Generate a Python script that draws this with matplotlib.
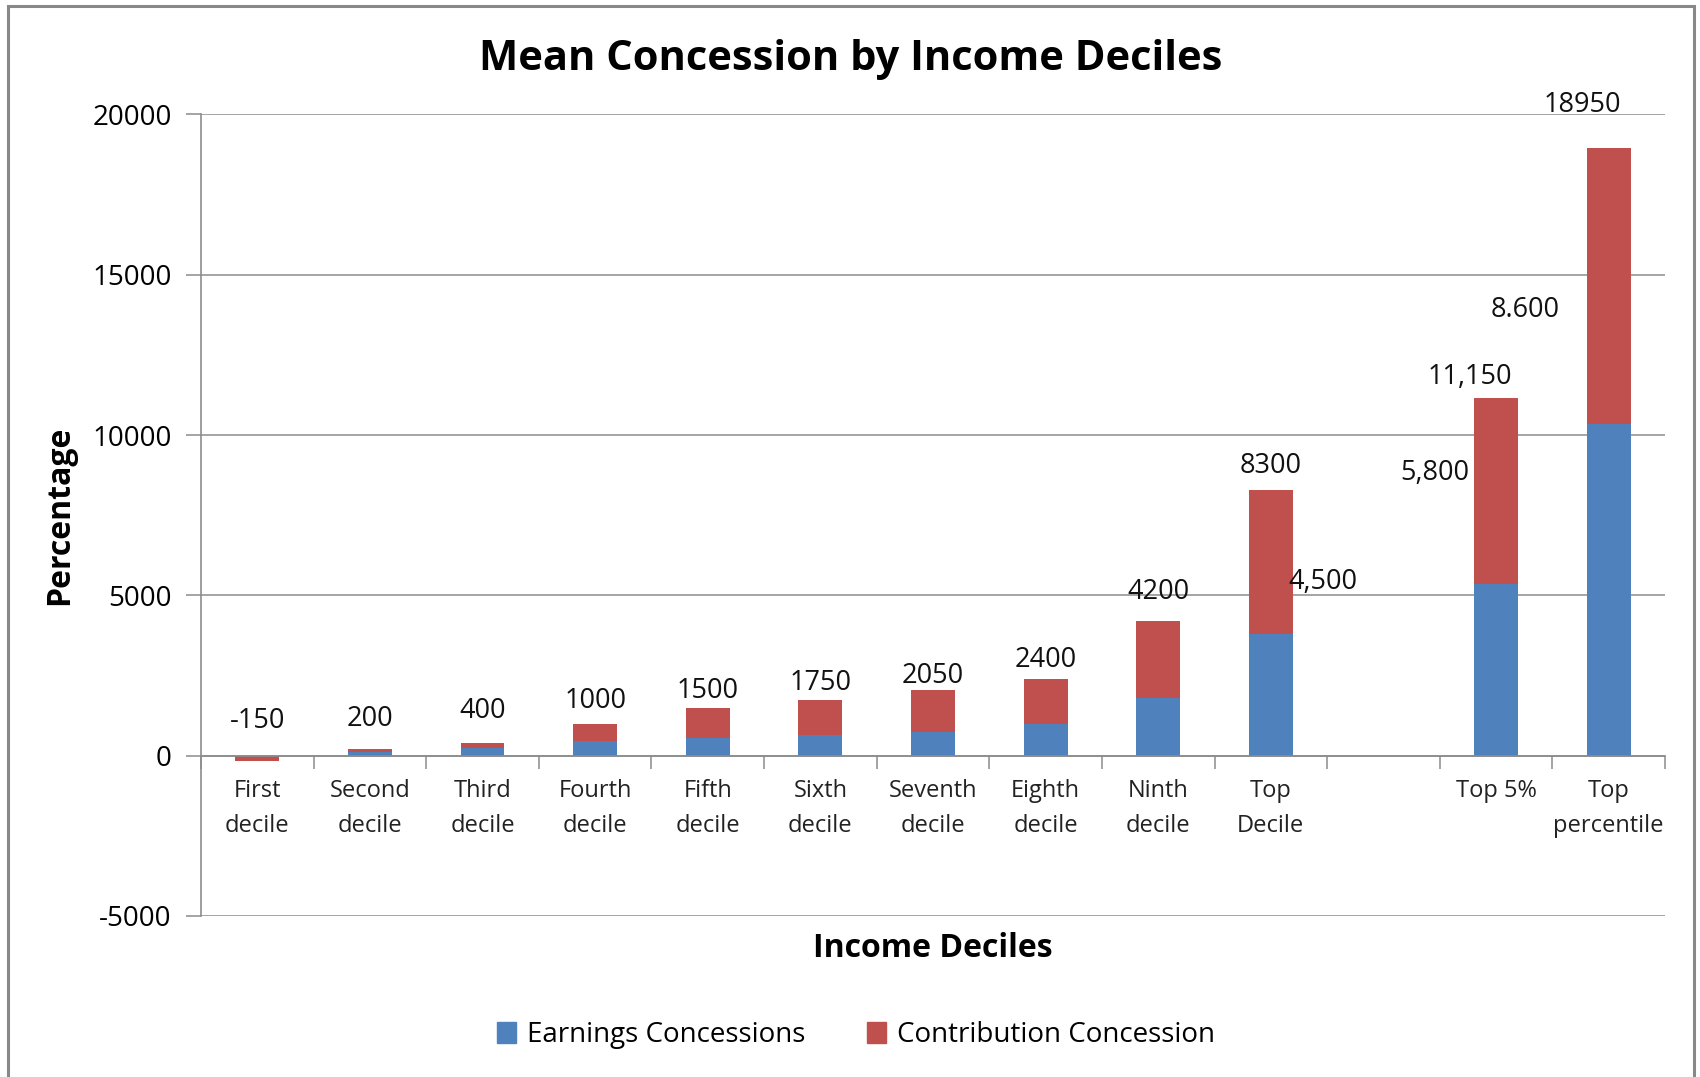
import matplotlib
matplotlib.use("Agg")
import matplotlib.pyplot as plt
from matplotlib.patches import Rectangle, Patch
import numpy as np

plt.rcParams['font.family'] = ['Open Sans', 'DejaVu Sans']
plt.rcParams['axes.unicode_minus'] = False

# categories (an empty slot sits between "Top Decile" and "Top 5%")
categories = ["First\ndecile", "Second\ndecile", "Third\ndecile", "Fourth\ndecile",
              "Fifth\ndecile", "Sixth\ndecile", "Seventh\ndecile", "Eighth\ndecile",
              "Ninth\ndecile", "Top\nDecile", "", "Top 5%", "Top\npercentile"]
earnings = [0, 100, 250, 450, 550, 650, 750, 1000, 1800, 3800, 0, 5350, 10350]
contribution = [-150, 100, 150, 550, 950, 1100, 1300, 1400, 2400, 4500, 0, 5800, 8600]

# hand-placed data labels of the original chart: (text, x slot, y value)
label_texts = ["-150", "200", "400", "1000", "1500", "1750", "2050", "2400",
               "4200", "8300", "11,150", "18950", "4,500", "5,800", "8.600"]
label_x = [0, 1, 2, 3, 4, 5, 6, 7, 8, 9, 10.77, 11.77, 9.46, 10.46, 11.26]
label_y = [1080, 1150, 1390, 1720, 2030, 2270, 2500, 2980,
           5110, 9030, 11800, 20300, 5420, 8830, 13900]

blue = "#4F81BD"
red = "#C0504D"
grid_col = "#8C8C8C"

fig = plt.figure(figsize=(17, 10.77), dpi=100)
ax = fig.add_axes([201 / 1700, 1 - 916 / 1077, 1464 / 1700, (916 - 114.5) / 1077])

x = np.arange(len(categories))
w = 0.39
ax.bar(x, earnings, w, color=blue, zorder=3, label="Earnings Concessions")
bottoms = [e if c >= 0 else 0 for e, c in zip(earnings, contribution)]
ax.bar(x, contribution, w, bottom=bottoms, color=red, zorder=3,
       label="Contribution Concession")

ax.set_xlim(-0.5, len(categories) - 0.5)
ax.set_ylim(-5000, 20000)
ax.set_yticks(np.arange(-5000, 20001, 5000))
ax.yaxis.grid(True, color=grid_col, linewidth=1.1, zorder=0)

for s in ["top", "right"]:
    ax.spines[s].set_visible(False)
ax.spines["bottom"].set_position(("data", 0))
ax.spines["bottom"].set_color(grid_col)
ax.spines["left"].set_color(grid_col)
ax.spines["bottom"].set_linewidth(1.2)
ax.spines["left"].set_linewidth(1.2)
ax.spines["bottom"].set_zorder(4)

ax.set_xticks(x)
ax.set_xticklabels(categories, fontsize=17, color="#222222", linespacing=1.6)
ax.set_xticks(np.arange(-0.5, len(categories), 1), minor=True)
ax.tick_params(axis="x", which="major", length=0, pad=17)
ax.tick_params(axis="x", which="minor", length=9, color=grid_col, width=1.1)
ax.tick_params(axis="y", length=11, color=grid_col, width=1.1, labelsize=20, pad=10)

for t, lx, ly in zip(label_texts, label_x, label_y):
    ax.text(lx, ly, t, ha="center", va="center", fontsize=19.5, color="#111111", zorder=5)

ax.set_xlabel("Income Deciles", fontsize=23, fontweight="bold")
ax.xaxis.set_label_coords(0.5, (916 - 932) / (916 - 114.5))
ax.set_ylabel("Percentage", fontsize=23, fontweight="bold")
ax.yaxis.set_label_coords((76 - 201) / 1464, 0.5)

fig.text(851 / 1700, 1 - 59 / 1077, "Mean Concession by Income Deciles",
         ha="center", va="center", fontsize=30, fontweight="bold")

handles = [Patch(color=blue), Patch(color=red)]
fig.legend(handles, ["Earnings Concessions", "Contribution Concession"],
           loc="center", bbox_to_anchor=(856 / 1700, 1 - 1035 / 1077), ncol=2,
           frameon=False, fontsize=20, handlelength=0.7, handleheight=0.8,
           columnspacing=2.2, handletextpad=0.4)

# outer chart border
fig.add_artist(Rectangle((8 / 1700, -0.05), (1694 - 8) / 1700, 1.05 - 6 / 1077,
                         transform=fig.transFigure, fill=False,
                         edgecolor="#888888", linewidth=2.2))

fig.savefig("out.png", dpi=100)
